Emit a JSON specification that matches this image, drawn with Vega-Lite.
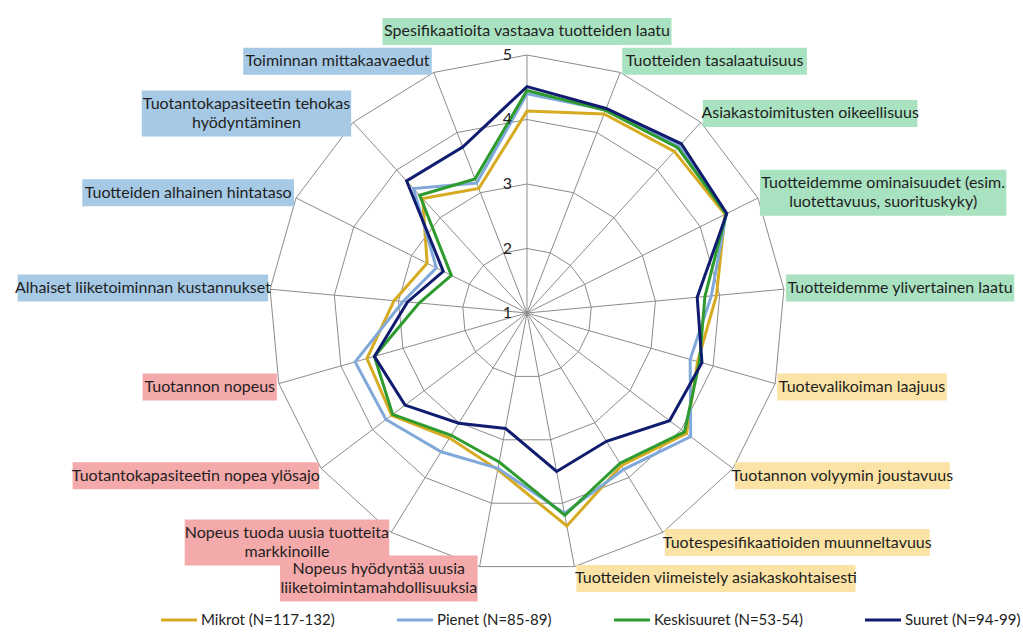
{
  "$schema": "https://vega.github.io/schema/vega-lite/v6.json",
  "width": 1023,
  "height": 633,
  "autosize": {"type": "fit", "contains": "padding"},
  "padding": 0,
  "background": "white",
  "config": {"view": {"stroke": null}, "font": "Lato"},
  "datasets": {
    "axes": [
      {"k": 0, "label": ["Spesifikaatioita vastaava tuotteiden laatu"], "group": "Laatu"},
      {"k": 1, "label": ["Tuotteiden tasalaatuisuus"], "group": "Laatu"},
      {"k": 2, "label": ["Asiakastoimitusten oikeellisuus"], "group": "Laatu"},
      {"k": 3, "label": ["Tuotteidemme ominaisuudet (esim.", "luotettavuus, suorituskyky)"], "group": "Laatu"},
      {"k": 4, "label": ["Tuotteidemme ylivertainen laatu"], "group": "Laatu"},
      {"k": 5, "label": ["Tuotevalikoiman laajuus"], "group": "Joustavuus"},
      {"k": 6, "label": ["Tuotannon volyymin joustavuus"], "group": "Joustavuus"},
      {"k": 7, "label": ["Tuotespesifikaatioiden muunneltavuus"], "group": "Joustavuus"},
      {"k": 8, "label": ["Tuotteiden viimeistely asiakaskohtaisesti"], "group": "Joustavuus"},
      {"k": 9, "label": ["Nopeus hyödyntää uusia", "liiketoimintamahdollisuuksia"], "group": "Nopeus"},
      {"k": 10, "label": ["Nopeus tuoda uusia tuotteita", "markkinoille"], "group": "Nopeus"},
      {"k": 11, "label": ["Tuotantokapasiteetin nopea ylösajo"], "group": "Nopeus"},
      {"k": 12, "label": ["Tuotannon nopeus"], "group": "Nopeus"},
      {"k": 13, "label": ["Alhaiset liiketoiminnan kustannukset"], "group": "Kustannukset"},
      {"k": 14, "label": ["Tuotteiden alhainen hintataso"], "group": "Kustannukset"},
      {"k": 15, "label": ["Tuotantokapasiteetin tehokas", "hyödyntäminen"], "group": "Kustannukset"},
      {"k": 16, "label": ["Toiminnan mittakaavaedut"], "group": "Kustannukset"}
    ],
    "levels": [{"level": 1}, {"level": 2}, {"level": 3}, {"level": 4}, {"level": 5}],
    "scores": [
      {"k": 0, "series": "Mikrot (N=117-132)", "value": 4.13},
      {"k": 1, "series": "Mikrot (N=117-132)", "value": 4.31},
      {"k": 2, "series": "Mikrot (N=117-132)", "value": 4.39},
      {"k": 3, "series": "Mikrot (N=117-132)", "value": 4.43},
      {"k": 4, "series": "Mikrot (N=117-132)", "value": 3.95},
      {"k": 5, "series": "Mikrot (N=117-132)", "value": 3.75},
      {"k": 6, "series": "Mikrot (N=117-132)", "value": 4.10},
      {"k": 7, "series": "Mikrot (N=117-132)", "value": 3.78},
      {"k": 8, "series": "Mikrot (N=117-132)", "value": 4.36},
      {"k": 9, "series": "Mikrot (N=117-132)", "value": 3.47},
      {"k": 10, "series": "Mikrot (N=117-132)", "value": 3.28},
      {"k": 11, "series": "Mikrot (N=117-132)", "value": 3.63},
      {"k": 12, "series": "Mikrot (N=117-132)", "value": 3.58},
      {"k": 13, "series": "Mikrot (N=117-132)", "value": 3.07},
      {"k": 14, "series": "Mikrot (N=117-132)", "value": 2.73},
      {"k": 15, "series": "Mikrot (N=117-132)", "value": 3.40},
      {"k": 16, "series": "Mikrot (N=117-132)", "value": 3.07},
      {"k": 0, "series": "Pienet (N=85-89)", "value": 4.40},
      {"k": 1, "series": "Pienet (N=85-89)", "value": 4.38},
      {"k": 2, "series": "Pienet (N=85-89)", "value": 4.50},
      {"k": 3, "series": "Pienet (N=85-89)", "value": 4.45},
      {"k": 4, "series": "Pienet (N=85-89)", "value": 3.87},
      {"k": 5, "series": "Pienet (N=85-89)", "value": 3.63},
      {"k": 6, "series": "Pienet (N=85-89)", "value": 4.18},
      {"k": 7, "series": "Pienet (N=85-89)", "value": 3.85},
      {"k": 8, "series": "Pienet (N=85-89)", "value": 4.16},
      {"k": 9, "series": "Pienet (N=85-89)", "value": 3.45},
      {"k": 10, "series": "Pienet (N=85-89)", "value": 3.53},
      {"k": 11, "series": "Pienet (N=85-89)", "value": 3.74},
      {"k": 12, "series": "Pienet (N=85-89)", "value": 3.77},
      {"k": 13, "series": "Pienet (N=85-89)", "value": 2.93},
      {"k": 14, "series": "Pienet (N=85-89)", "value": 2.57},
      {"k": 15, "series": "Pienet (N=85-89)", "value": 3.61},
      {"k": 16, "series": "Pienet (N=85-89)", "value": 3.16},
      {"k": 0, "series": "Keskisuuret (N=53-54)", "value": 4.45},
      {"k": 1, "series": "Keskisuuret (N=53-54)", "value": 4.37},
      {"k": 2, "series": "Keskisuuret (N=53-54)", "value": 4.47},
      {"k": 3, "series": "Keskisuuret (N=53-54)", "value": 4.45},
      {"k": 4, "series": "Keskisuuret (N=53-54)", "value": 3.77},
      {"k": 5, "series": "Keskisuuret (N=53-54)", "value": 3.78},
      {"k": 6, "series": "Keskisuuret (N=53-54)", "value": 4.06},
      {"k": 7, "series": "Keskisuuret (N=53-54)", "value": 3.74},
      {"k": 8, "series": "Keskisuuret (N=53-54)", "value": 4.19},
      {"k": 9, "series": "Keskisuuret (N=53-54)", "value": 3.35},
      {"k": 10, "series": "Keskisuuret (N=53-54)", "value": 3.23},
      {"k": 11, "series": "Keskisuuret (N=53-54)", "value": 3.61},
      {"k": 12, "series": "Keskisuuret (N=53-54)", "value": 3.46},
      {"k": 13, "series": "Keskisuuret (N=53-54)", "value": 2.68},
      {"k": 14, "series": "Keskisuuret (N=53-54)", "value": 2.31},
      {"k": 15, "series": "Keskisuuret (N=53-54)", "value": 3.47},
      {"k": 16, "series": "Keskisuuret (N=53-54)", "value": 3.23},
      {"k": 0, "series": "Suuret (N=94-99)", "value": 4.51},
      {"k": 1, "series": "Suuret (N=94-99)", "value": 4.40},
      {"k": 2, "series": "Suuret (N=94-99)", "value": 4.55},
      {"k": 3, "series": "Suuret (N=94-99)", "value": 4.46},
      {"k": 4, "series": "Suuret (N=94-99)", "value": 3.65},
      {"k": 5, "series": "Suuret (N=94-99)", "value": 3.82},
      {"k": 6, "series": "Suuret (N=94-99)", "value": 3.77},
      {"k": 7, "series": "Suuret (N=94-99)", "value": 3.34},
      {"k": 8, "series": "Suuret (N=94-99)", "value": 3.50},
      {"k": 9, "series": "Suuret (N=94-99)", "value": 2.82},
      {"k": 10, "series": "Suuret (N=94-99)", "value": 3.01},
      {"k": 11, "series": "Suuret (N=94-99)", "value": 3.37},
      {"k": 12, "series": "Suuret (N=94-99)", "value": 3.46},
      {"k": 13, "series": "Suuret (N=94-99)", "value": 2.86},
      {"k": 14, "series": "Suuret (N=94-99)", "value": 2.45},
      {"k": 15, "series": "Suuret (N=94-99)", "value": 3.77},
      {"k": 16, "series": "Suuret (N=94-99)", "value": 3.76}
    ]
  },
  "layer": [
    {
      "data": {"name": "axes"},
      "transform": [
        {"calculate": "[2,3,4,5]", "as": "levels"},
        {"flatten": ["levels"], "as": ["level"]},
        {"calculate": "datum.k*2*PI/17", "as": "theta"},
        {"calculate": "(datum.level-1)*sin(datum.theta)", "as": "gx"},
        {"calculate": "(datum.level-1)*cos(datum.theta)", "as": "gy"}
      ],
      "mark": {"type": "line", "interpolate": "linear-closed", "stroke": "#8c8c8c", "strokeWidth": 1},
      "encoding": {
        "x": {"field": "gx", "type": "quantitative", "scale": {"domain": [-8.1705, 7.6899], "nice": false, "zero": false}, "axis": null},
        "y": {"field": "gy", "type": "quantitative", "scale": {"domain": [-4.9612, 4.8527], "nice": false, "zero": false}, "axis": null},
        "detail": {"field": "level", "type": "nominal"},
        "order": {"field": "k", "type": "quantitative"}
      }
    },
    {
      "data": {"name": "axes"},
      "transform": [
        {"calculate": "datum.k*2*PI/17", "as": "theta"},
        {"calculate": "4*sin(datum.theta)", "as": "sx"},
        {"calculate": "4*cos(datum.theta)", "as": "sy"}
      ],
      "mark": {"type": "rule", "stroke": "#8c8c8c", "strokeWidth": 1},
      "encoding": {
        "x": {"field": "sx", "type": "quantitative", "scale": {"domain": [-8.1705, 7.6899], "nice": false, "zero": false}, "axis": null},
        "y": {"field": "sy", "type": "quantitative", "scale": {"domain": [-4.9612, 4.8527], "nice": false, "zero": false}, "axis": null},
        "x2": {"datum": 0},
        "y2": {"datum": 0}
      }
    },
    {
      "data": {"name": "scores"},
      "transform": [
        {"calculate": "datum.k*2*PI/17", "as": "theta"},
        {"calculate": "(datum.value-1)*sin(datum.theta)", "as": "px"},
        {"calculate": "(datum.value-1)*cos(datum.theta)", "as": "py"}
      ],
      "mark": {"type": "line", "interpolate": "linear-closed", "strokeWidth": 3},
      "encoding": {
        "x": {"field": "px", "type": "quantitative", "scale": {"domain": [-8.1705, 7.6899], "nice": false, "zero": false}, "axis": null},
        "y": {"field": "py", "type": "quantitative", "scale": {"domain": [-4.9612, 4.8527], "nice": false, "zero": false}, "axis": null},
        "stroke": {
          "field": "series",
          "type": "nominal",
          "scale": {
            "domain": ["Mikrot (N=117-132)", "Pienet (N=85-89)", "Keskisuuret (N=53-54)", "Suuret (N=94-99)"],
            "range": ["#D6AB22", "#80A9DA", "#2E9B2E", "#101C6E"]
          },
          "legend": {
            "title": null,
            "orient": "none",
            "direction": "horizontal",
            "legendX": 159,
            "legendY": 600,
            "padding": 0,
            "symbolType": "stroke",
            "symbolStrokeWidth": 3,
            "symbolSize": 1300,
            "labelFont": "Lato",
            "labelFontSize": 15,
            "labelColor": "#222222",
            "labelOffset": 2,
            "labelLimit": 0,
            "columnPadding": 55
          }
        },
        "order": {"field": "k", "type": "quantitative"}
      }
    },
    {
      "data": {"name": "levels"},
      "transform": [
        {"calculate": "datum.level-1", "as": "ly"}
      ],
      "mark": {"type": "text", "align": "right", "baseline": "middle", "dx": -15, "fontSize": 16, "font": "Lato", "color": "#222222"},
      "encoding": {
        "x": {"datum": 0, "type": "quantitative", "scale": {"domain": [-8.1705, 7.6899], "nice": false, "zero": false}, "axis": null},
        "y": {"field": "ly", "type": "quantitative", "scale": {"domain": [-4.9612, 4.8527], "nice": false, "zero": false}, "axis": null},
        "text": {"field": "level", "type": "quantitative"}
      }
    },
    {
      "data": {"name": "axes"},
      "transform": [
        {"calculate": "datum.k*2*PI/17", "as": "theta"},
        {"calculate": "sin(datum.theta)", "as": "s"},
        {"calculate": "cos(datum.theta)", "as": "c"},
        {"calculate": "4*datum.s", "as": "vx"},
        {"calculate": "4*datum.c", "as": "vy"},
        {"calculate": "datum.label[0]", "as": "l0"},
        {"calculate": "length(datum.label) > 1 ? datum.label[1] : ''", "as": "l1"},
        {"calculate": "length(replace(datum.l0, /[^ijl., ]/g, ''))", "as": "a0"},
        {"calculate": "length(replace(datum.l0, /[^ftr()sczkvyxI]/g, ''))", "as": "b0"},
        {"calculate": "length(replace(datum.l0, /[^mwMW]/g, ''))", "as": "c0"},
        {"calculate": "length(replace(datum.l1, /[^ijl., ]/g, ''))", "as": "a1"},
        {"calculate": "length(replace(datum.l1, /[^ftr()sczkvyxI]/g, ''))", "as": "b1"},
        {"calculate": "length(replace(datum.l1, /[^mwMW]/g, ''))", "as": "c1"},
        {"calculate": "16*(0.235*datum.a0 + 0.39*datum.b0 + 0.76*datum.c0 + 0.5*(length(datum.l0) - datum.a0 - datum.b0 - datum.c0))", "as": "w0"},
        {"calculate": "16*(0.235*datum.a1 + 0.39*datum.b1 + 0.76*datum.c1 + 0.5*(length(datum.l1) - datum.a1 - datum.b1 - datum.c1))", "as": "w1"},
        {"calculate": "(max(datum.w0, datum.w1) + 14)/64.5", "as": "W"},
        {"calculate": "(length(datum.label)*19 + 8)/64.5", "as": "H"},
        {"calculate": "abs(datum.s) < 0.1 ? datum.vx : datum.vx + (datum.s > 0 ? 1 : -1)*(datum.W/2 + 2/64.5)", "as": "cx"},
        {"calculate": "abs(datum.s) < 0.1 ? datum.vy + datum.H/2 + 10/64.5 : datum.vy + 12/64.5*datum.c", "as": "cy"},
        {"calculate": "datum.cy + (length(datum.label) - 1)*9.5/64.5", "as": "ty"},
        {"calculate": "datum.cx - datum.W/2", "as": "bx1"},
        {"calculate": "datum.cx + datum.W/2", "as": "bx2"},
        {"calculate": "datum.cy - datum.H/2", "as": "by1"},
        {"calculate": "datum.cy + datum.H/2", "as": "by2"}
      ],
      "layer": [
        {
          "mark": {"type": "rect"},
          "encoding": {
            "x": {"field": "bx1", "type": "quantitative", "scale": {"domain": [-8.1705, 7.6899], "nice": false, "zero": false}, "axis": null},
            "x2": {"field": "bx2"},
            "y": {"field": "by1", "type": "quantitative", "scale": {"domain": [-4.9612, 4.8527], "nice": false, "zero": false}, "axis": null},
            "y2": {"field": "by2"},
            "fill": {
              "field": "group",
              "type": "nominal",
              "scale": {"domain": ["Laatu", "Joustavuus", "Nopeus", "Kustannukset"], "range": ["#A9E2C1", "#FBE3A6", "#F4A9AA", "#A6C9E5"]},
              "legend": null
            }
          }
        },
        {
          "mark": {"type": "text", "align": "center", "baseline": "middle", "fontSize": 16, "font": "Lato", "lineHeight": 19, "color": "#1f1f1f"},
          "encoding": {
            "x": {"field": "cx", "type": "quantitative", "scale": {"domain": [-8.1705, 7.6899], "nice": false, "zero": false}, "axis": null},
            "y": {"field": "ty", "type": "quantitative", "scale": {"domain": [-4.9612, 4.8527], "nice": false, "zero": false}, "axis": null},
            "text": {"field": "label"}
          }
        }
      ]
    }
  ]
}
